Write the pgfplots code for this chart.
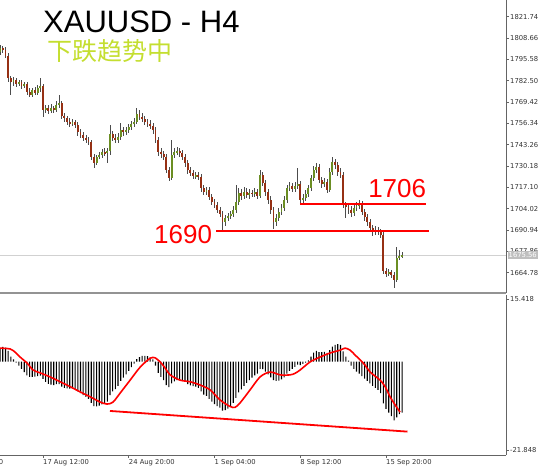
\documentclass[border=0pt]{standalone}
\usepackage{pgfplots}
\pgfplotsset{compat=1.18}
\usepackage{pgfplotstable}
\usepackage{fontspec}
\setmainfont{DejaVu Sans}
\newfontfamily\arialfont{Liberation Sans}
\newfontfamily\cjk{Noto Sans CJK SC}
\definecolor{upc}{RGB}{107,142,35}
\definecolor{dnc}{RGB}{150,48,20}
\definecolor{cjkgreen}{RGB}{196,222,48}
\definecolor{axgray}{RGB}{100,100,100}
\newcommand{\tickfont}{\fontsize{6.8}{7}\selectfont}

\pgfplotstableread{
i o h l c
0 1800.0 1804.3 1798.2 1802.5
1 1802.5 1803.7 1799.4 1801.3
2 1801.3 1803.1 1796.3 1797.6
3 1797.6 1799.4 1781.6 1784.1
4 1784.1 1785.3 1773.7 1781.6
5 1781.6 1784.7 1779.2 1782.9
6 1782.9 1784.1 1778.6 1780.4
7 1780.4 1782.9 1779.2 1781.6
8 1781.6 1782.9 1777.3 1779.2
9 1779.2 1781.6 1778.0 1780.4
10 1780.4 1781.6 1773.7 1775.5
11 1775.5 1778.0 1772.4 1773.7
12 1773.7 1778.0 1772.4 1776.7
13 1776.7 1778.6 1773.7 1774.9
14 1774.9 1779.8 1773.7 1778.0
15 1778.0 1784.1 1775.5 1779.2
16 1779.2 1780.4 1760.2 1764.5
17 1764.5 1767.5 1762.6 1765.7
18 1765.7 1767.5 1762.0 1763.9
19 1763.9 1768.2 1762.6 1765.7
20 1765.7 1766.9 1762.6 1764.5
21 1764.5 1770.0 1763.2 1767.5
22 1767.5 1773.7 1765.7 1768.8
23 1768.8 1770.0 1758.9 1760.8
24 1760.8 1762.6 1757.1 1759.6
25 1759.6 1760.8 1755.3 1757.1
26 1757.1 1759.6 1754.0 1755.9
27 1755.9 1758.9 1754.7 1757.1
28 1757.1 1758.3 1753.4 1755.3
29 1755.3 1757.1 1748.5 1751.0
30 1751.0 1752.8 1747.3 1749.2
31 1749.2 1751.0 1745.5 1747.3
32 1747.3 1749.2 1744.2 1746.1
33 1746.1 1747.9 1743.0 1744.9
34 1744.9 1746.1 1733.8 1735.7
35 1735.7 1737.5 1728.9 1732.0
36 1732.0 1736.9 1730.8 1735.7
37 1735.7 1738.7 1734.4 1736.9
38 1736.9 1740.6 1735.1 1738.7
39 1738.7 1741.2 1736.3 1738.1
40 1738.1 1741.2 1732.0 1739.3
41 1739.3 1755.3 1736.9 1749.8
42 1749.8 1751.6 1745.5 1747.3
43 1747.3 1749.8 1744.2 1746.1
44 1746.1 1750.4 1744.2 1747.9
45 1747.9 1756.5 1746.1 1752.2
46 1752.2 1754.0 1748.5 1751.0
47 1751.0 1754.0 1749.2 1752.2
48 1752.2 1755.9 1750.4 1754.0
49 1754.0 1757.7 1752.2 1755.9
50 1755.9 1759.6 1754.0 1757.1
51 1757.1 1765.7 1755.9 1762.0
52 1762.0 1764.5 1758.3 1760.2
53 1760.2 1762.6 1757.1 1758.9
54 1758.9 1760.8 1755.3 1757.1
55 1757.1 1758.9 1754.0 1755.9
56 1755.9 1758.3 1752.8 1754.7
57 1754.7 1756.5 1749.8 1752.2
58 1752.2 1754.0 1744.2 1746.1
59 1746.1 1747.9 1736.3 1738.7
60 1738.7 1741.2 1735.1 1737.5
61 1737.5 1739.3 1733.8 1735.7
62 1735.7 1737.5 1725.9 1727.7
63 1727.7 1729.5 1720.9 1722.8
64 1722.8 1746.1 1721.6 1736.9
65 1736.9 1741.2 1735.1 1738.7
66 1738.7 1741.8 1736.9 1739.3
67 1739.3 1741.2 1735.7 1738.1
68 1738.1 1739.9 1733.8 1735.7
69 1735.7 1737.5 1729.5 1732.0
70 1732.0 1733.8 1725.2 1727.7
71 1727.7 1729.5 1724.0 1725.9
72 1725.9 1727.7 1722.2 1724.0
73 1724.0 1726.5 1722.2 1724.6
74 1724.6 1726.5 1721.6 1723.4
75 1723.4 1725.2 1714.2 1716.7
76 1716.7 1718.5 1712.4 1714.2
77 1714.2 1717.3 1712.4 1715.4
78 1715.4 1717.3 1709.3 1711.2
79 1711.2 1713.0 1706.3 1708.1
80 1708.1 1709.9 1704.4 1706.3
81 1706.3 1708.1 1701.4 1703.2
82 1703.2 1705.0 1698.9 1700.7
83 1700.7 1702.6 1689.7 1695.8
84 1695.8 1700.1 1693.4 1698.3
85 1698.3 1701.4 1696.4 1699.5
86 1699.5 1702.6 1697.7 1700.7
87 1700.7 1705.6 1698.9 1703.2
88 1703.2 1718.5 1701.4 1708.1
89 1708.1 1716.7 1706.3 1713.6
90 1713.6 1716.1 1709.3 1711.8
91 1711.8 1717.3 1709.9 1714.2
92 1714.2 1716.7 1710.5 1712.4
93 1712.4 1716.1 1709.9 1713.6
94 1713.6 1715.4 1711.2 1713.0
95 1713.0 1716.7 1711.2 1714.2
96 1714.2 1716.1 1709.9 1711.8
97 1711.8 1727.7 1710.5 1724.6
98 1724.6 1726.5 1717.9 1719.7
99 1719.7 1721.6 1711.8 1714.2
100 1714.2 1716.1 1706.9 1709.3
101 1709.3 1711.8 1700.7 1703.2
102 1703.2 1705.0 1691.5 1695.8
103 1695.8 1700.7 1693.4 1698.3
104 1698.3 1704.4 1696.4 1702.0
105 1702.0 1706.9 1700.1 1704.4
106 1704.4 1711.8 1702.6 1709.3
107 1709.3 1718.5 1707.5 1716.7
108 1716.7 1720.3 1714.8 1717.9
109 1717.9 1719.7 1714.2 1716.1
110 1716.1 1720.3 1714.2 1717.9
111 1717.9 1728.9 1716.1 1719.1
112 1719.1 1720.9 1706.3 1709.3
113 1709.3 1713.0 1706.3 1710.5
114 1710.5 1715.4 1708.7 1713.0
115 1713.0 1718.5 1711.2 1716.7
116 1716.7 1724.6 1714.8 1722.8
117 1722.8 1730.1 1720.9 1727.7
118 1727.7 1732.0 1725.9 1729.5
119 1729.5 1731.4 1719.7 1721.6
120 1721.6 1723.4 1716.7 1719.1
121 1719.1 1722.8 1717.3 1720.3
122 1720.3 1722.2 1713.6 1715.4
123 1715.4 1728.9 1714.2 1726.5
124 1726.5 1735.7 1724.6 1732.6
125 1732.6 1734.4 1728.3 1730.8
126 1730.8 1732.6 1724.0 1726.5
127 1726.5 1728.9 1722.8 1724.6
128 1724.6 1726.5 1704.4 1706.3
129 1706.3 1708.1 1698.3 1705.0
130 1705.0 1707.5 1700.7 1703.2
131 1703.2 1705.6 1698.9 1701.4
132 1701.4 1706.3 1699.5 1704.4
133 1704.4 1708.1 1702.6 1705.6
134 1705.6 1709.3 1703.8 1706.9
135 1706.9 1708.7 1700.1 1702.0
136 1702.0 1703.8 1696.4 1698.9
137 1698.9 1700.7 1693.4 1695.8
138 1695.8 1697.7 1689.7 1692.1
139 1692.1 1694.0 1687.2 1689.7
140 1689.7 1693.4 1687.8 1690.9
141 1690.9 1692.8 1687.8 1689.7
142 1689.7 1691.5 1686.0 1687.8
143 1687.8 1689.7 1663.9 1665.8
144 1665.8 1667.6 1662.1 1663.9
145 1663.9 1667.0 1662.7 1665.2
146 1665.2 1666.4 1661.5 1663.3
147 1663.3 1665.2 1655.4 1660.3
148 1660.3 1680.5 1659.0 1673.7
149 1673.7 1678.7 1672.5 1675.0
150 1675.0 1677.4 1673.7 1675.56
}\ohlc

\pgfplotstableread{
i m
0 3.2
1 3.6
2 3.4
3 2.6
4 1.2
5 0.5
6 -0.3
7 -1.0
8 -1.8
9 -2.6
10 -3.4
11 -3.8
12 -3.8
13 -3.7
14 -3.6
15 -3.5
16 -4.3
17 -5.0
18 -5.5
19 -5.7
20 -5.8
21 -5.6
22 -5.6
23 -6.2
24 -6.5
25 -6.6
26 -6.7
27 -6.6
28 -6.8
29 -7.4
30 -7.8
31 -8.3
32 -8.7
33 -9.2
34 -10.2
35 -11.0
36 -11.1
37 -10.9
38 -10.6
39 -10.3
40 -9.9
41 -8.3
42 -7.4
43 -6.8
44 -6.0
45 -4.8
46 -4.0
47 -3.2
48 -2.3
49 -1.4
50 -0.5
51 0.6
52 1.1
53 1.4
54 1.4
55 1.3
56 1.0
57 0.5
58 -1.0
59 -2.8
60 -3.8
61 -4.6
62 -5.8
63 -6.3
64 -5.4
65 -4.9
66 -4.6
67 -4.5
68 -4.6
69 -5.0
70 -5.6
71 -5.9
72 -6.1
73 -6.2
74 -6.5
75 -7.4
76 -8.2
77 -8.5
78 -9.2
79 -9.9
80 -10.5
81 -11.0
82 -11.4
83 -12.1
84 -12.0
85 -11.6
86 -11.0
87 -10.2
88 -9.0
89 -7.6
90 -6.9
91 -6.0
92 -5.3
93 -4.6
94 -4.0
95 -3.4
96 -3.0
97 -1.8
98 -1.9
99 -2.5
100 -3.2
101 -3.9
102 -4.6
103 -4.8
104 -4.7
105 -4.4
106 -3.9
107 -3.0
108 -2.3
109 -1.8
110 -1.3
111 -0.8
112 -0.9
113 -0.6
114 -0.3
115 0.3
116 1.2
117 2.2
118 2.6
119 2.3
120 2.3
121 2.4
122 2.1
123 2.8
124 3.7
125 4.1
126 4.3
127 4.1
128 2.5
129 1.2
130 0.2
131 -1.0
132 -1.8
133 -2.5
134 -3.0
135 -3.6
136 -4.2
137 -4.8
138 -5.4
139 -6.0
140 -6.5
141 -7.0
142 -7.8
143 -10.3
144 -11.7
145 -12.6
146 -13.5
147 -14.5
148 -13.8
149 -13.0
150 -12.6
}\hist

\begin{document}
\begin{tikzpicture}[x=1pt,y=1pt]
\path[use as bounding box] (0pt,0pt) rectangle (554pt,-470pt);
% ---------------- main price panel ----------------
\begin{axis}[
  at={(0pt,0pt)}, anchor=north west, scale only axis,
  width=506pt, height=293pt,
  xmin=-0.04, xmax=188.77, ymin=1652.3, ymax=1831.9,
  axis x line*=bottom, axis y line*=right,
  x axis line style={-, draw=gray!85, line width=2pt},
  y axis line style={-, draw=axgray, line width=0.9pt},
  xtick=\empty,
  ytick={1664.78,1677.86,1690.94,1704.02,1717.10,1730.18,1743.26,1756.34,1769.42,1782.50,1795.58,1808.66,1821.74},
  yticklabels={1664.78,1677.86,1690.94,1704.02,1717.10,1730.18,1743.26,1756.34,1769.42,1782.50,1795.58,1808.66,1821.74},
  tick align=outside, major tick length=3pt,
  tick style={axgray, line width=0.6pt},
  yticklabel style={font=\tickfont, text=black!80, inner sep=1pt},
  clip=false,
]
% current price line
\addplot[black!18, line width=0.8pt] coordinates {(-0.04,1675.56) (188.77,1675.56)};
% wicks
\addplot[draw=none, mark=none, error bars/.cd, y dir=both, y explicit, error mark=none,
  error bar style={draw=black!70, line width=0.7pt}]
  table[x=i, y expr={(\thisrow{h}+\thisrow{l})/2}, y error expr={(\thisrow{h}-\thisrow{l})/2}] {\ohlc};
% up bodies
\addplot[draw=none, mark=none, restrict expr to domain={\thisrow{c}-\thisrow{o}}{0:1000},
  error bars/.cd, y dir=both, y explicit, error mark=none,
  error bar style={draw=upc, line width=1.9pt}]
  table[x=i, y expr={(\thisrow{o}+\thisrow{c})/2}, y error expr={abs(\thisrow{c}-\thisrow{o})/2}] {\ohlc};
% down bodies
\addplot[draw=none, mark=none, restrict expr to domain={\thisrow{o}-\thisrow{c}}{0.0001:1000},
  error bars/.cd, y dir=both, y explicit, error mark=none,
  error bar style={draw=dnc, line width=1.9pt}]
  table[x=i, y expr={(\thisrow{o}+\thisrow{c})/2}, y error expr={abs(\thisrow{c}-\thisrow{o})/2}] {\ohlc};
% support / resistance lines
\addplot[red, line width=2pt] coordinates {(111.9,1706.7) (159.0,1706.7)};
\addplot[red, line width=2pt] coordinates {(80.6,1690.5) (160.1,1690.5)};
\node[anchor=base west, inner sep=0, text=red, font=\arialfont\fontsize{26}{26}\selectfont] at (axis cs:137.3,1711.1) {1706};
\node[anchor=base west, inner sep=0, text=red, font=\arialfont\fontsize{26}{26}\selectfont] at (axis cs:57.4,1682.9) {1690};
\coordinate (cp) at (axis cs:188.77,1675.56);
\end{axis}
\node[anchor=west, fill=black!25, text=white, inner sep=1pt, font=\tickfont, xshift=1.5pt] at (cp) {1675.56};
\node[anchor=base west, inner sep=0, font=\arialfont\fontsize{31}{31}\selectfont] at (43pt,-33pt) {XAUUSD - H4};
\node[anchor=base west, inner sep=0, text=cjkgreen, font=\cjk\fontsize{25}{25}\selectfont] at (47pt,-61pt) {下跌趋势中};
% ---------------- MACD panel ----------------
\begin{axis}[
  at={(0pt,-295pt)}, anchor=north west, scale only axis,
  width=506pt, height=160pt,
  xmin=-0.04, xmax=188.77, ymin=-23.07, ymax=16.41,
  axis x line*=bottom, axis y line*=right,
  x axis line style={-, draw=axgray, line width=1pt},
  y axis line style={-, draw=axgray, line width=0.9pt},
  xtick={16,48,80,112,144},
  xticklabels={17 Aug 12:00,24 Aug 20:00,1 Sep 04:00,8 Sep 12:00,15 Sep 20:00},
  ytick={15.418,-21.848}, yticklabels={15.418,-21.848},
  tick align=outside, major tick length=3pt,
  tick style={axgray, line width=0.6pt},
  xticklabel style={font=\tickfont, text=black!80, anchor=north west, inner sep=1pt, xshift=-1pt},
  yticklabel style={font=\tickfont, text=black!80, inner sep=1pt},
  clip=false,
]
\addplot[ybar, bar width=1.1pt, fill=black, draw=none] table[x=i, y=m] {\hist};
\addplot[red, line width=1.6pt, smooth, tension=0.5] coordinates {
(0,3.3) (3.73,3.1) (5.6,2.3) (7.46,1.1) (10.07,-0.4) (12.31,-2.1) (14.93,-2.8)
(18.66,-3.8) (22.39,-5.0) (26.12,-6.2) (29.85,-7.5) (33.58,-8.7) (37.31,-10.0)
(39.93,-10.5) (42.16,-10.0) (44.78,-7.8) (48.51,-4.6) (52.24,-1.4) (55.97,0.8)
(57.84,0.9) (59.70,-0.1) (61.57,-1.6) (63.43,-3.3) (67.16,-4.6) (70.90,-5.0)
(74.63,-5.8) (78.36,-7.0) (82.09,-9.5) (85.82,-11.1) (87.69,-11.3) (89.55,-10.2)
(93.28,-7.0) (97.01,-3.8) (100.75,-2.6) (104.48,-3.3) (108.21,-3.3) (110.07,-2.9)
(111.94,-2.1) (115.67,-0.1) (119.40,1.1) (123.13,2.1) (126.87,2.8) (128.73,3.3)
(130.60,2.8) (132.46,1.6) (134.33,0.4) (136.19,-0.9) (138.06,-2.6) (141.79,-4.6)
(143.66,-6.2) (145.52,-8.7) (147.39,-10.7) (149.25,-12.5)};
\addplot[red, line width=1.8pt] coordinates {(41.0,-12.2) (152.0,-17.3)};
\node[anchor=north west, inner sep=1pt, font=\tickfont, text=black!80, xshift=-1pt, yshift=-3pt] at (axis cs:-16,-23.07) {10 Aug 04:00};
\end{axis}
\end{tikzpicture}
\end{document}
